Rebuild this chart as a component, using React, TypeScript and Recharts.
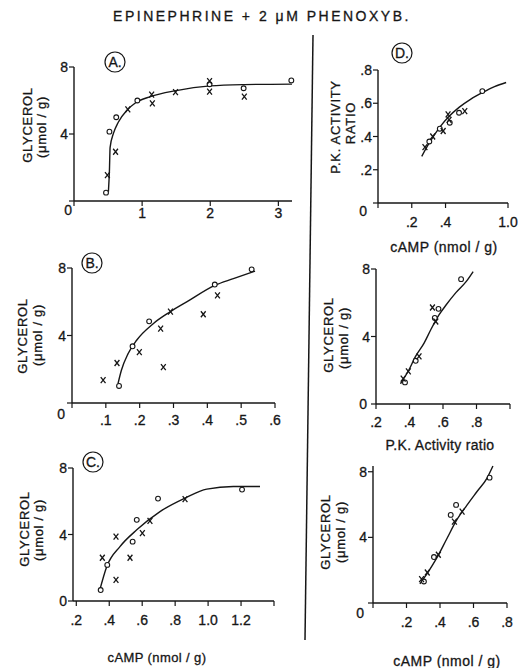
import { ComposedChart, Line, Scatter, XAxis, YAxis } from 'recharts';

type Pt = [number, number];

// panel A: glycerol vs cAMP
const aOpen: Pt[] = [[0.47, 0.5], [0.52, 4.14], [0.62, 5.0], [0.93, 6.0], [1.99, 6.97], [2.49, 6.73], [3.19, 7.2]];
const aCross: Pt[] = [[0.49, 1.55], [0.61, 2.94], [0.79, 5.47], [1.14, 6.35], [1.15, 5.83], [1.49, 6.5], [1.99, 7.16], [1.99, 6.53], [2.5, 6.23]];
const aFit: Pt[] = [[0.505, 0.55], [0.52, 1.8], [0.53, 3.2], [0.58, 4.05], [0.65, 4.7], [0.78, 5.43], [0.9, 5.85], [1.12, 6.23], [1.5, 6.59], [2.0, 6.87], [2.5, 6.95], [3.2, 6.98]];

// panel B
const bOpen: Pt[] = [[0.139, 1.01], [0.179, 3.36], [0.228, 4.84], [0.422, 7.02], [0.531, 7.92]];
const bCross: Pt[] = [[0.092, 1.35], [0.133, 2.37], [0.199, 3.02], [0.262, 4.41], [0.27, 2.13], [0.291, 5.42], [0.388, 5.26], [0.43, 6.38]];
const bFit: Pt[] = [[0.136, 1.15], [0.146, 1.94], [0.166, 2.93], [0.191, 3.72], [0.24, 4.7], [0.289, 5.39], [0.339, 5.99], [0.422, 6.97], [0.477, 7.37], [0.541, 7.82]];

// panel C
const cOpen: Pt[] = [[0.348, 0.66], [0.388, 2.17], [0.542, 3.57], [0.567, 4.88], [0.696, 6.16], [1.206, 6.7]];
const cCross: Pt[] = [[0.358, 2.6], [0.441, 3.87], [0.441, 1.27], [0.526, 2.6], [0.601, 4.08], [0.647, 4.82], [0.86, 6.13]];
const cFit: Pt[] = [[0.34, 0.56], [0.385, 2.07], [0.465, 3.27], [0.567, 4.28], [0.708, 5.38], [0.86, 6.19], [0.992, 6.73], [1.153, 6.89], [1.315, 6.89]];

// panel D: P.K. activity ratio vs cAMP (axis units as drawn)
const dOpen: Pt[] = [[0.304, 0.37], [0.366, 0.447], [0.425, 0.483], [0.48, 0.543], [0.618, 0.673]];
const dCross: Pt[] = [[0.278, 0.336], [0.324, 0.4], [0.386, 0.433], [0.415, 0.533], [0.421, 0.5], [0.514, 0.553]];
const dFit: Pt[] = [[0.259, 0.28], [0.3, 0.355], [0.365, 0.455], [0.42, 0.52], [0.48, 0.575], [0.55, 0.625], [0.62, 0.665], [0.69, 0.7], [0.759, 0.725]];

// panel E: glycerol vs P.K. activity ratio
const eOpen: Pt[] = [[0.373, 1.28], [0.437, 2.56], [0.551, 5.1], [0.573, 5.64], [0.708, 7.4]];
const eCross: Pt[] = [[0.362, 1.5], [0.393, 1.93], [0.457, 2.82], [0.537, 5.72], [0.557, 4.89]];
const eFit: Pt[] = [[0.346, 1.2], [0.397, 2.03], [0.436, 2.82], [0.487, 3.61], [0.527, 4.4], [0.576, 5.28], [0.617, 5.85], [0.677, 6.6], [0.738, 7.25], [0.78, 7.85]];

// panel F: glycerol vs cAMP
const fOpen: Pt[] = [[0.304, 1.31], [0.364, 2.8], [0.464, 5.37], [0.496, 5.98], [0.696, 7.64]];
const fCross: Pt[] = [[0.29, 1.46], [0.324, 1.86], [0.39, 2.94], [0.486, 4.96], [0.532, 5.57]];
const fFit: Pt[] = [[0.28, 1.17], [0.33, 1.9], [0.38, 2.73], [0.44, 3.9], [0.5, 5.06], [0.56, 5.95], [0.62, 6.78], [0.68, 7.6], [0.716, 8.35]];

// ticks and labels
const glyTicks = [0, 4, 8];
const glyLabels = ['0', '4', '8'];
const aXTicks = [0, 1, 2, 3];
const aXLabels = ['', '1', '2', '3'];
const bXTicks = [0, 0.1, 0.2, 0.3, 0.4, 0.5, 0.6];
const bXLabels = ['', '.1', '.2', '.3', '.4', '.5', '.6'];
const cXTicks = [0.18, 0.2, 0.4, 0.6, 0.8, 1.0, 1.2, 1.4];
const cXLabels = ['', '.2', '.4', '.6', '.8', '1.0', '1.2', ''];
const dXTicks = [0, 0.2, 0.4, 0.6, 0.77];
const dXLabels = ['', '.2', '.4', '.8', '1.0'];
const dYTicks = [0, 0.2, 0.4, 0.6, 0.8];
const dYLabels = ['0', '.2', '.4', '.6', '.8'];
const eXTicks = [0.2, 0.4, 0.6, 0.8, 1.0];
const eXLabels = ['.2', '.4', '.6', '.8', ''];
const fXTicks = [0, 0.2, 0.4, 0.6, 0.8];
const fXLabels = ['', '.2', '.4', '.6', '.8'];

const INK = '#161616';
const FONT = '"Liberation Sans", Arial, sans-serif';
const TXT = { fontFamily: FONT, fill: INK, stroke: INK, strokeWidth: 0.3 };

const toObj = (pts: Pt[]) => pts.map(([x, y]) => ({ x, y }));

const OpenDot = (p: any) => <circle cx={p.cx} cy={p.cy} r={2.4} fill="#fff" stroke={INK} strokeWidth={1.1} />;
const CrossDot = (p: any) => (
  <path d={`M${p.cx - 2.4},${p.cy - 3}L${p.cx + 2.4},${p.cy + 3}M${p.cx + 2.4},${p.cy - 3}L${p.cx - 2.4},${p.cy + 3}`} stroke={INK} strokeWidth={1.3} />
);

interface PanelProps {
  l: number; r: number; t: number; b: number;
  xDomain: [number, number]; xTicks: number[]; xLabels: string[]; xMargin: number;
  yDomain: [number, number]; yTicks: number[]; yLabels: string[];
  zero: [number, number];
  open: Pt[]; cross: Pt[]; fit: Pt[];
}

function Panel(p: PanelProps) {
  const padL = 45, padT = 10, padR = 15, padB = 35;
  const w = p.r - p.l + padL + padR;
  const h = p.b - p.t + padT + padB;
  const xTick = (tp: any) => {
    const i = p.xTicks.indexOf(tp.payload.value);
    return (
      <text x={tp.x} y={tp.y} dy="0.71em" textAnchor="middle" fontSize={14} {...TXT}>
        {p.xLabels[i] ?? ''}
      </text>
    );
  };
  const yTick = (tp: any) => {
    const i = p.yTicks.indexOf(tp.payload.value);
    const z = tp.payload.value === 0;
    return (
      <text x={tp.x + (z ? p.zero[0] : 0)} y={tp.y + (z ? p.zero[1] : 0)} dy="0.36em" textAnchor="end" fontSize={14} {...TXT}>
        {p.yLabels[i] ?? ''}
      </text>
    );
  };
  return (
    <div style={{ position: 'absolute', left: p.l - padL, top: p.t - padT }}>
      <ComposedChart width={w} height={h} margin={{ top: padT, right: padR, bottom: 0, left: 0 }}>
        <XAxis
          type="number" dataKey="x" domain={p.xDomain} ticks={p.xTicks}
          height={padB} tickSize={5} tickMargin={p.xMargin} tick={xTick}
          axisLine={{ stroke: INK, strokeWidth: 1.4 }} tickLine={{ stroke: INK, strokeWidth: 1.2 }}
        />
        <YAxis
          type="number" dataKey="y" domain={p.yDomain} ticks={p.yTicks}
          width={padL} tickSize={5} tickMargin={1} tick={yTick}
          axisLine={{ stroke: INK, strokeWidth: 1.4 }} tickLine={{ stroke: INK, strokeWidth: 1.2 }}
        />
        <Line data={toObj(p.fit)} dataKey="y" type="monotone" stroke={INK} strokeWidth={1.4} dot={false} isAnimationActive={false} />
        <Scatter data={toObj(p.open)} dataKey="y" shape={OpenDot} isAnimationActive={false} />
        <Scatter data={toObj(p.cross)} dataKey="y" shape={CrossDot} isAnimationActive={false} />
      </ComposedChart>
    </div>
  );
}

const Rot = ({ x, y, children }: { x: number; y: number; children: string }) => (
  <text transform={`translate(${x},${y}) rotate(-90)`} textAnchor="middle" dominantBaseline="central" fontSize={13} letterSpacing={0.7} {...TXT}>
    {children}
  </text>
);

const Badge = ({ x, y, s }: { x: number; y: number; s: string }) => (
  <g>
    <circle cx={x} cy={y} r={10} fill="none" stroke={INK} strokeWidth={1.2} />
    <text x={x} y={y} dy="0.36em" textAnchor="middle" fontSize={14} {...TXT}>{s}</text>
  </g>
);

export default function App() {
  return (
    <div style={{ position: 'absolute', left: 0, top: 0, width: 522, height: 668, background: '#fff' }}>
      <svg width={522} height={668} style={{ position: 'absolute', left: 0, top: 0 }}>
        <text x={262} y={21} textAnchor="middle" fontSize={14} letterSpacing={2.5} {...TXT}>
          EPINEPHRINE + 2 μM PHENOXYB.
        </text>
        <line x1={313} y1={35} x2={305} y2={640} stroke={INK} strokeWidth={1.5} />
        <Badge x={115} y={62} s="A." />
        <Badge x={92} y={263} s="B." />
        <Badge x={93} y={462} s="C." />
        <Badge x={402} y={53} s="D." />
        <Rot x={27} y={125}>GLYCEROL</Rot>
        <Rot x={41} y={127}>(μmol / g)</Rot>
        <Rot x={22} y={336}>GLYCEROL</Rot>
        <Rot x={37} y={335}>(μmol / g)</Rot>
        <Rot x={24} y={529}>GLYCEROL</Rot>
        <Rot x={38} y={530}>(μmol / g)</Rot>
        <Rot x={335} y={127}>P.K. ACTIVITY</Rot>
        <Rot x={350} y={123}>RATIO</Rot>
        <Rot x={328} y={335}>GLYCEROL</Rot>
        <Rot x={343} y={338}>(μmol / g)</Rot>
        <Rot x={325} y={532}>GLYCEROL</Rot>
        <Rot x={340} y={532}>(μmol / g)</Rot>
        <text x={157} y={662} textAnchor="middle" fontSize={13} letterSpacing={0.4} {...TXT}>cAMP (nmol / g)</text>
        <text x={444} y={252} textAnchor="middle" fontSize={14} letterSpacing={0.5} {...TXT}>cAMP (nmol / g)</text>
        <text x={440} y={450} textAnchor="middle" fontSize={14} letterSpacing={0.3} {...TXT}>P.K. Activity ratio</text>
        <text x={447} y={666} textAnchor="middle" fontSize={14} letterSpacing={0.5} {...TXT}>cAMP (nmol / g)</text>
      </svg>
      <Panel l={74} r={292} t={67} b={201} xDomain={[0, 3.2]} xTicks={aXTicks} xLabels={aXLabels} xMargin={2}
        yDomain={[0, 8]} yTicks={glyTicks} yLabels={glyLabels} zero={[4, 9]} open={aOpen} cross={aCross} fit={aFit} />
      <Panel l={72} r={275} t={268} b={403} xDomain={[0, 0.6]} xTicks={bXTicks} xLabels={bXLabels} xMargin={7}
        yDomain={[0, 8]} yTicks={glyTicks} yLabels={glyLabels} zero={[-1, 11]} open={bOpen} cross={bCross} fit={bFit} />
      <Panel l={73} r={274} t={468} b={601} xDomain={[0.18, 1.4]} xTicks={cXTicks} xLabels={cXLabels} xMargin={9}
        yDomain={[0, 8]} yTicks={glyTicks} yLabels={glyLabels} zero={[0, 0]} open={cOpen} cross={cCross} fit={cFit} />
      <Panel l={378} r={508} t={69.5} b={202.5} xDomain={[0, 0.77]} xTicks={dXTicks} xLabels={dXLabels} xMargin={9}
        yDomain={[0, 0.8]} yTicks={dYTicks} yLabels={dYLabels} zero={[-5, 8]} open={dOpen} cross={dCross} fit={dFit} />
      <Panel l={376} r={510} t={269} b={404} xDomain={[0.2, 1.0]} xTicks={eXTicks} xLabels={eXLabels} xMargin={8}
        yDomain={[0, 8]} yTicks={glyTicks} yLabels={glyLabels} zero={[-3, 0]} open={eOpen} cross={eCross} fit={eFit} />
      <Panel l={373} r={507} t={466} b={603} xDomain={[0, 0.8]} xTicks={fXTicks} xLabels={fXLabels} xMargin={9}
        yDomain={[0, 8.35]} yTicks={glyTicks} yLabels={glyLabels} zero={[-3, 10]} open={fOpen} cross={fCross} fit={fFit} />
    </div>
  );
}
